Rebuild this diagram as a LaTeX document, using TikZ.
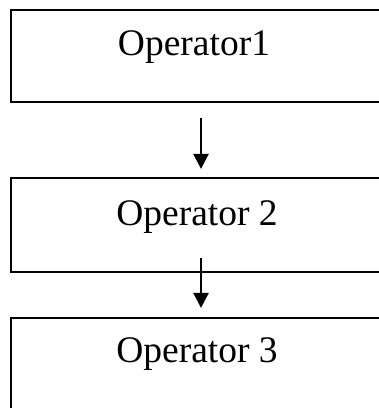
\documentclass[tikz,border=0pt]{standalone}
\usepackage{fontspec}
\setmainfont{Liberation Serif}
\usetikzlibrary{arrows.meta}
\begin{document}
\begin{tikzpicture}[x=1pt,y=-1pt,
  box/.style={draw, line width=2.2pt, minimum width=380pt, inner sep=0pt},
  lbl/.style={anchor=base, inner sep=0pt, font=\fontsize{37.5}{45}\selectfont},
  arr/.style={line width=2.6pt, -{Triangle[width=15pt,length=15pt]}}]
\useasboundingbox (0,0) rectangle (379,408);
\clip (0,0) rectangle (379,408);
\node[box, minimum height=92pt] (b1) at (201,56) {};
\node[box, minimum height=94pt] (b2) at (201,225) {};
\node[box, minimum height=102pt] (b3) at (201,369) {};
\node[lbl] (t1) at (194,55) {Operator1};
\node[lbl] (t2) at (197,225) {Operator 2};
\node[lbl] (t3) at (197,362) {Operator 3};
\draw[arr] ([shift={(0,15)}]b1.south) -- ([shift={(0,-8)}]b2.north);
\draw[arr] ([shift={(0,-15)}]b2.south) -- ([shift={(0,-9)}]b3.north);
\end{tikzpicture}
\end{document}
